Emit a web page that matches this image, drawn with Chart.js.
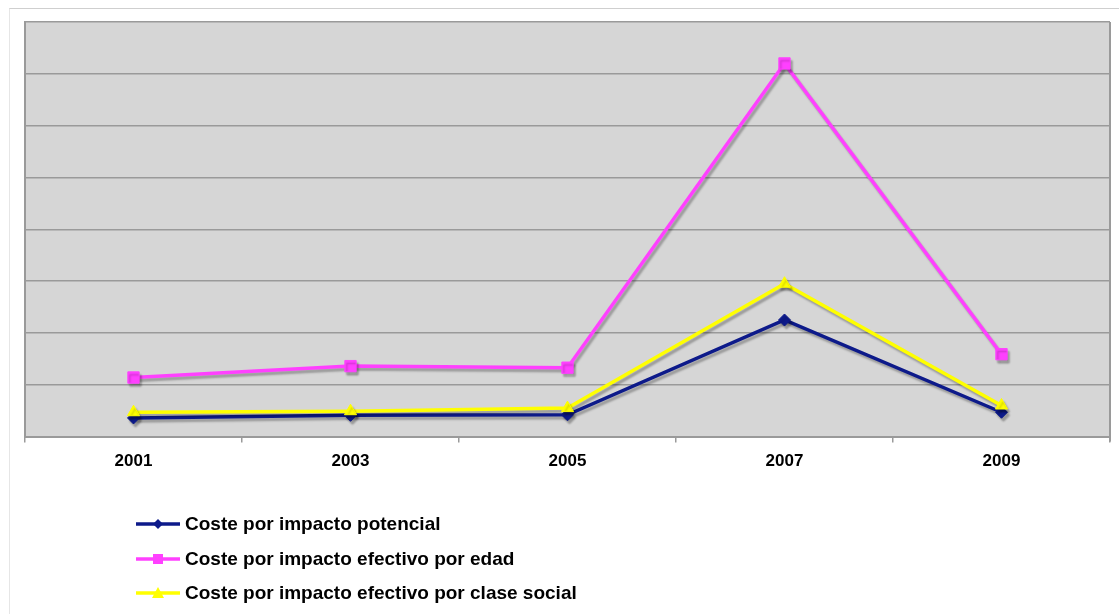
<!DOCTYPE html>
<html>
<head>
<meta charset="utf-8">
<script src="https://cdn.jsdelivr.net/npm/chart.js@4"></script>
<style>
  html, body { margin: 0; padding: 0; background: #ffffff; }
  #wrap { position: relative; width: 1119px; height: 614px; overflow: hidden; }
  #frame { position: absolute; left: 9px; top: 8px; width: 1200px; height: 700px;
           border-top: 1px solid #cfcfcf; border-left: 1px solid #e6e6e6; }
  canvas { position: absolute; left: 0; top: 0; }
  #legend { position: absolute; left: 136px; top: 507px; font-family: "Liberation Sans", Arial, sans-serif;
            font-weight: bold; font-size: 19px; color: #000; }
  .row { display: flex; align-items: center; height: 34.5px; }
  .row svg { display: block; }
  .row span { margin-left: 5px; white-space: nowrap; }
</style>
</head>
<body>
<div id="wrap">
  <div id="frame"></div>
  <canvas id="c" width="1119" height="614"></canvas>
  <div id="legend"></div>
</div>
<script>
const years = ['2001', '2003', '2005', '2007', '2009'];
const potencial = [0.36, 0.41, 0.42, 2.25, 0.47];
const edad = [1.14, 1.36, 1.33, 7.2, 1.59];
const claseSocial = [0.47, 0.49, 0.55, 2.95, 0.6];
const seriesNames = ['Coste por impacto potencial', 'Coste por impacto efectivo por edad', 'Coste por impacto efectivo por clase social'];
const yTicks = [0, 1, 2, 3, 4, 5, 6, 7, 8];

const colors = ['#0d1a8a', '#ff40ff', '#ffff00'];
const styles = ['rectRot', 'rect', 'triangle'];
const radii = [6, 8, 7];

const bgPlugin = {
  id: 'plotBg',
  beforeDraw(chart) {
    const { ctx, chartArea: a } = chart;
    ctx.save();
    ctx.fillStyle = '#d6d6d6';
    ctx.fillRect(a.left, a.top, a.right - a.left, a.bottom - a.top);
    ctx.restore();
  },
  afterDraw(chart) {
    const { ctx, chartArea: a } = chart;
    ctx.save();
    ctx.strokeStyle = '#9a9a9a';
    ctx.lineWidth = 2;
    ctx.beginPath();
    ctx.moveTo(a.right, a.top);
    ctx.lineTo(a.right, a.bottom + 5);
    ctx.stroke();
    ctx.restore();
  },
  beforeDatasetsDraw(chart) {
    const ctx = chart.ctx;
    ctx.save();
    ctx.shadowColor = 'rgba(0,0,0,0.28)';
    ctx.shadowOffsetX = 2;
    ctx.shadowOffsetY = 3;
    ctx.shadowBlur = 2;
  },
  afterDatasetsDraw(chart) {
    chart.ctx.restore();
  }
};

const dataSets = [potencial, edad, claseSocial].map((vals, i) => ({
  label: seriesNames[i],
  data: vals,
  borderColor: colors[i],
  backgroundColor: colors[i],
  pointBackgroundColor: colors[i],
  pointBorderColor: colors[i],
  pointStyle: styles[i],
  pointRadius: radii[i],
  pointBorderWidth: 1,
  borderWidth: 3.5,
  tension: 0,
  order: 2 - i
}));

new Chart(document.getElementById('c'), {
  type: 'line',
  data: { labels: years, datasets: dataSets },
  options: {
    responsive: false,
    animation: false,
    devicePixelRatio: 1,
    layout: { padding: { left: 25, right: 7, top: 22, bottom: 133 } },
    plugins: { legend: { display: false }, tooltip: { enabled: false } },
    scales: {
      x: {
        offset: true,
        grid: { display: true, drawOnChartArea: false, drawTicks: true, tickLength: 6, color: '#9a9a9a', lineWidth: 1.5, offset: true },
        border: { display: true, color: '#9a9a9a', width: 2 },
        ticks: { color: '#000', padding: 9, font: { family: '"Liberation Sans", Arial, sans-serif', size: 17, weight: 'bold' } },
        afterFit(scale) { scale.paddingLeft = 0; scale.paddingRight = 0; }
      },
      y: {
        min: yTicks[0],
        max: yTicks[yTicks.length - 1],
        afterBuildTicks(scale) { scale.ticks = yTicks.map(v => ({ value: v })); },
        ticks: { display: false },
        grid: { color: '#9a9a9a', lineWidth: 1.5, drawTicks: false },
        border: { display: true, color: '#9a9a9a', width: 2 },
        afterFit(scale) { scale.width = 0; scale.paddingTop = 0; scale.paddingBottom = 0; }
      }
    }
  },
  plugins: [bgPlugin]
});

// HTML legend built from the datasets
const legend = document.getElementById('legend');
seriesNames.forEach((name, i) => {
  const row = document.createElement('div');
  row.className = 'row';
  let marker = '';
  if (styles[i] === 'rectRot') marker = `<polygon points="22,2 27,7 22,12 17,7" fill="${colors[i]}"/>`;
  else if (styles[i] === 'rect') marker = `<rect x="17" y="2" width="10" height="10" fill="${colors[i]}"/>`;
  else marker = `<polygon points="22,1 28,12 16,12" fill="${colors[i]}"/>`;
  row.innerHTML = `<svg width="44" height="14" viewBox="0 0 44 14"><line x1="0" y1="7" x2="44" y2="7" stroke="${colors[i]}" stroke-width="3.5"/>${marker}</svg><span>${name}</span>`;
  legend.appendChild(row);
});
</script>
</body>
</html>
